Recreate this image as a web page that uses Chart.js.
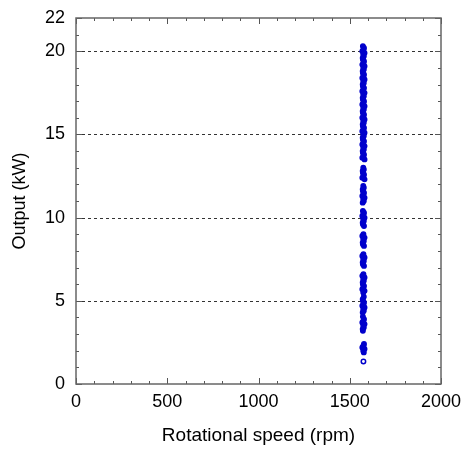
<!DOCTYPE html>
<html>
<head>
<meta charset="utf-8">
<script src="https://cdn.jsdelivr.net/npm/chart.js@4.4.0/dist/chart.umd.min.js"></script>
<style>
  html, body { margin: 0; padding: 0; background: #fff; }
  #wrap { width: 462px; height: 450px; }
</style>
</head>
<body>
<div id="wrap"><canvas id="chart" width="462" height="450"></canvas></div>
<script>
// axis ticks
var xTicks = [0, 500, 1000, 1500, 2000];
var yTicks = [0, 5, 10, 15, 20, 22];
var gridKw = [5, 10, 15, 20];

// measured points (rpm, kW)
var outputKw = [
  20.3, 20.2, 20.1, 20.0, 19.9, 19.8, 19.7, 19.6, 19.5, 19.4,
  19.3, 19.2, 19.1, 19.0, 18.9, 18.8, 18.7, 18.6, 18.5, 18.4,
  18.3, 18.2, 18.1, 18.0, 17.9, 17.8, 17.7, 17.6, 17.5, 17.4,
  17.3, 17.2, 17.1, 17.0, 16.9, 16.8, 16.7, 16.6, 16.5, 16.4,
  16.3, 16.2, 16.1, 16.0, 15.9, 15.8, 15.7, 15.6, 15.5, 15.4,
  15.3, 15.2, 15.1, 15.0, 14.9, 14.8, 14.7, 14.6, 14.5, 14.4,
  14.3, 14.2, 14.1, 14.0, 13.9, 13.8, 13.7, 13.6, 13.5,
  13.0, 12.9, 12.8, 12.7, 12.6, 12.5, 12.4, 12.3,
  11.9, 11.8, 11.7, 11.6, 11.5, 11.4, 11.3, 11.2, 11.1, 11.0, 10.9,
  10.4, 10.3, 10.2, 10.1, 10.0, 9.9, 9.8, 9.7, 9.6, 9.5,
  9.0, 8.9, 8.8, 8.7, 8.6, 8.5, 8.4, 8.3,
  7.8, 7.7, 7.6, 7.5, 7.4, 7.3, 7.2, 7.1,
  6.6, 6.5, 6.4, 6.3, 6.2, 6.1, 6.0, 5.9, 5.8, 5.7, 5.6, 5.5,
  5.25, 5.1, 5.0, 4.9, 4.8, 4.7, 4.6, 4.5, 4.4, 4.3,
  4.05, 3.9, 3.8, 3.7, 3.6, 3.5, 3.4, 3.3, 3.2,
  2.4, 2.3, 2.2, 2.1, 2.0, 1.9,
  1.35
];
var speedRpm = [
  1572, 1578, 1575, 1569, 1581, 1574, 1577, 1571,
  1572, 1578, 1575, 1569, 1581, 1574, 1577, 1571,
  1572, 1578, 1575, 1569, 1581, 1574, 1577, 1571,
  1572, 1578, 1575, 1569, 1581, 1574, 1577, 1571,
  1572, 1578, 1575, 1569, 1581, 1574, 1577, 1571,
  1572, 1578, 1575, 1569, 1581, 1574, 1577, 1571,
  1572, 1578, 1575, 1569, 1581, 1574, 1577, 1571,
  1572, 1578, 1575, 1569, 1581, 1574, 1577, 1571,
  1572, 1578, 1575, 1569, 1581, 1574, 1577, 1571,
  1572, 1578, 1575, 1569, 1581, 1574, 1577, 1571,
  1572, 1578, 1575, 1569, 1581, 1574, 1577, 1571,
  1572, 1578, 1575, 1569, 1581, 1574, 1577, 1571,
  1572, 1578, 1575, 1569, 1581, 1574, 1577, 1571,
  1572, 1578, 1575, 1569, 1581, 1574, 1577, 1571,
  1572, 1578, 1575, 1569, 1581, 1574, 1577, 1571,
  1572, 1578, 1575, 1569, 1581, 1574, 1577, 1571,
  1572, 1578, 1575, 1569, 1581, 1574, 1577, 1571,
  1572, 1578, 1575, 1569, 1581, 1574, 1577, 1571,
  1572, 1578, 1575, 1569, 1581, 1574, 1577, 1575
];

var points = [];
for (var i = 0; i < outputKw.length; i++) {
  points.push({ x: speedRpm[i], y: outputKw[i] });
}

var labelFont = { family: "'Liberation Sans', Arial, sans-serif", size: 18 };

// dashed grid, boxed frame and inward ticks like the original plot
var framePlugin = {
  id: 'frame',
  beforeDatasetsDraw: function(chart) {
    var ctx = chart.ctx;
    var a = chart.chartArea;
    var ys = chart.scales.y;
    ctx.save();
    ctx.strokeStyle = '#333';
    ctx.lineWidth = 1;
    ctx.setLineDash([3, 3]);
    gridKw.forEach(function(v) {
      var py = Math.round(ys.getPixelForValue(v)) + 0.5;
      ctx.beginPath();
      ctx.moveTo(a.left, py);
      ctx.lineTo(a.right, py);
      ctx.stroke();
    });
    ctx.restore();
  },
  afterDatasetsDraw: function(chart) {
    var ctx = chart.ctx;
    var a = chart.chartArea;
    var xs = chart.scales.x;
    var ys = chart.scales.y;
    ctx.save();
    ctx.strokeStyle = '#555';
    ctx.lineWidth = 1;
    ctx.beginPath();
    for (var v = 0; v <= 2000; v += 100) {
      var len = (v % 500 === 0) ? 6 : 3;
      var px = Math.round(xs.getPixelForValue(v)) + 0.5;
      ctx.moveTo(px, a.bottom); ctx.lineTo(px, a.bottom - len);
      ctx.moveTo(px, a.top); ctx.lineTo(px, a.top + len);
    }
    for (var w = 0; w <= 22; w += 1) {
      var l2 = (yTicks.indexOf(w) >= 0) ? 6 : 3;
      var py = Math.round(ys.getPixelForValue(w)) + 0.5;
      ctx.moveTo(a.left, py); ctx.lineTo(a.left + l2, py);
      ctx.moveTo(a.right, py); ctx.lineTo(a.right - l2, py);
    }
    ctx.stroke();
    ctx.strokeStyle = '#666';
    ctx.lineWidth = 1.5;
    ctx.strokeRect(a.left, a.top, a.right - a.left, a.bottom - a.top);
    ctx.restore();
  }
};

function plainLabel(value) {
  return String(value);
}

// overlapping markers merge into solid bands; the lone lowest one stays open
function markerFill(c) {
  if (c.raw && c.raw.y < 1.5) {
    return 'rgba(0,0,0,0)';
  }
  return '#0000cc';
}

var ctx = document.getElementById('chart').getContext('2d');
var chart = new Chart(ctx, {
  type: 'scatter',
  data: {
    datasets: [
      {
        label: 'Output',
        data: points,
        pointStyle: 'circle',
        pointRadius: 2.2,
        pointBorderWidth: 1.5,
        borderColor: '#0000cc',
        pointBackgroundColor: markerFill
      }
    ]
  },
  options: {
    responsive: false,
    animation: false,
    layout: { padding: { top: 18, right: 21, left: 0, bottom: 0 } },
    plugins: {
      legend: { display: false },
      tooltip: { enabled: false }
    },
    scales: {
      x: {
        type: 'linear',
        min: 0,
        max: 2000,
        afterBuildTicks: function(scale) {
          scale.ticks = xTicks.map(function(v) { return { value: v }; });
        },
        afterFit: function(scale) {
          scale.height = 66;
          scale.paddingLeft = 0;
          scale.paddingRight = 0;
        },
        grid: { display: false, drawTicks: false },
        border: { display: false },
        ticks: { font: labelFont, color: '#000', padding: 7, maxRotation: 0, callback: plainLabel },
        title: { display: true, text: 'Rotational speed (rpm)', font: { family: labelFont.family, size: 19 }, color: '#000', padding: 3 }
      },
      y: {
        type: 'linear',
        min: 0,
        max: 22,
        afterBuildTicks: function(scale) {
          scale.ticks = yTicks.map(function(v) { return { value: v }; });
        },
        afterFit: function(scale) {
          scale.width = 76;
          scale.paddingTop = 0;
          scale.paddingBottom = 0;
        },
        grid: { display: false, drawTicks: false },
        border: { display: false },
        ticks: { font: labelFont, color: '#000', padding: 11, callback: plainLabel },
        title: { display: true, text: 'Output (kW)', font: labelFont, color: '#000', padding: 9 }
      }
    }
  },
  plugins: [framePlugin]
});
</script>
</body>
</html>
